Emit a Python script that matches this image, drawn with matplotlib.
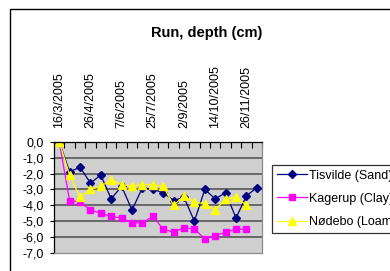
import numpy as np
import matplotlib
matplotlib.use("Agg")
import matplotlib.pyplot as plt
from matplotlib.patches import Rectangle

plt.rcParams['font.family'] = ['Liberation Sans', 'DejaVu Sans']

# data (20 sampling dates, every 3rd one labelled)
n_dates = 20
date_labels = ['16/3/2005', '26/4/2005', '7/6/2005', '25/7/2005',
               '2/9/2005', '14/10/2005', '26/11/2005']
label_idx = [0, 3, 6, 9, 12, 15, 18]

tisvilde = [0.0, -1.9, -1.6, -2.6, -2.1, -3.6, -2.8, -4.3, -2.9, -3.0,
            -3.2, -3.7, -3.5, -5.0, -3.0, -3.6, -3.2, -4.8, -3.4, -2.9]
kagerup = [0.0, -3.7, -3.8, -4.3, -4.5, -4.7, -4.8, -5.1, -5.1, -4.7,
           -5.5, -5.7, -5.4, -5.5, -6.1, -5.9, -5.7, -5.5, -5.5, np.nan]
nodebo = [0.0, -2.1, -3.5, -3.0, -2.8, -2.4, -2.7, -2.8, -2.7, -2.7,
          -2.8, -4.0, -3.4, -3.8, -3.9, -4.3, -3.6, -3.5, -4.0, np.nan]

y_ticks = [0, -1, -2, -3, -4, -5, -6, -7]
y_labels = ['0,0', '-1,0', '-2,0', '-3,0', '-4,0', '-5,0', '-6,0', '-7,0']

W, H = 390, 271
fig = plt.figure(figsize=(W / 100, H / 100), dpi=100)
ax = fig.add_axes([54 / W, 1 - 253 / H, 208 / W, 111.3 / H])
ax.set_facecolor('#cfcfcf')

x = np.arange(n_dates)
ax.plot(x, tisvilde, color='#000080', marker='D', markersize=4, lw=0.9,
        label='Tisvilde (Sand)')
ax.plot(x, kagerup, color='#ff00ff', marker='s', markersize=4.5, lw=0.9,
        label='Kagerup (Clay)')
ax.plot(x, nodebo, color='#ffff00', marker='^', markersize=6, lw=0.9,
        label='Nødebo (Loam)')

ax.set_xlim(-0.5, n_dates - 0.5)
ax.set_ylim(-7, 0)

# y axis
ax.set_yticks(y_ticks)
ax.set_yticklabels(y_labels)
ax.tick_params(axis='y', direction='out', length=3, width=0.8, pad=4.5,
               labelsize=9)
for v in y_ticks[1:-1]:
    ax.axhline(v, color='#606060', lw=1.3, zorder=0.5)

# x axis sits at the top (y = 0)
ax.xaxis.tick_top()
ax.set_xticks(label_idx)
ax.set_xticklabels(date_labels, rotation=90)
ax.set_xticks(np.arange(-0.5, n_dates, 1), minor=True)
ax.tick_params(axis='x', which='major', length=0, pad=10, labelsize=9)
ax.tick_params(axis='x', which='minor', direction='in', length=4, width=0.8,
               top=True, bottom=False)

for s in ['top', 'left']:
    ax.spines[s].set_color('black')
    ax.spines[s].set_linewidth(0.9)
for s in ['right', 'bottom']:
    ax.spines[s].set_color('#8a8a8a')
    ax.spines[s].set_linewidth(0.9)

# legend runs off the right edge, as in the original
leg = fig.legend(loc='upper left', bbox_to_anchor=(272 / W, 1 - 164.5 / H),
                 fontsize=9, frameon=True, fancybox=False, borderpad=0.4,
                 labelspacing=0.9, handlelength=2.4, handletextpad=0.15,
                 borderaxespad=0)
leg.get_frame().set_edgecolor('black')
leg.get_frame().set_linewidth(0.9)

fig.text(207 / W, 1 - 33 / H, 'Run, depth (cm)', ha='center', va='center',
         fontsize=10.5, fontweight='bold')

# chart area border (runs off the right and bottom of the picture)
fig.patches.append(Rectangle((10 / W, -0.2), 1.5, 1.2 - 9 / H,
                             transform=fig.transFigure, fill=False,
                             edgecolor='black', lw=1))

fig.savefig('out.png', dpi=100)
